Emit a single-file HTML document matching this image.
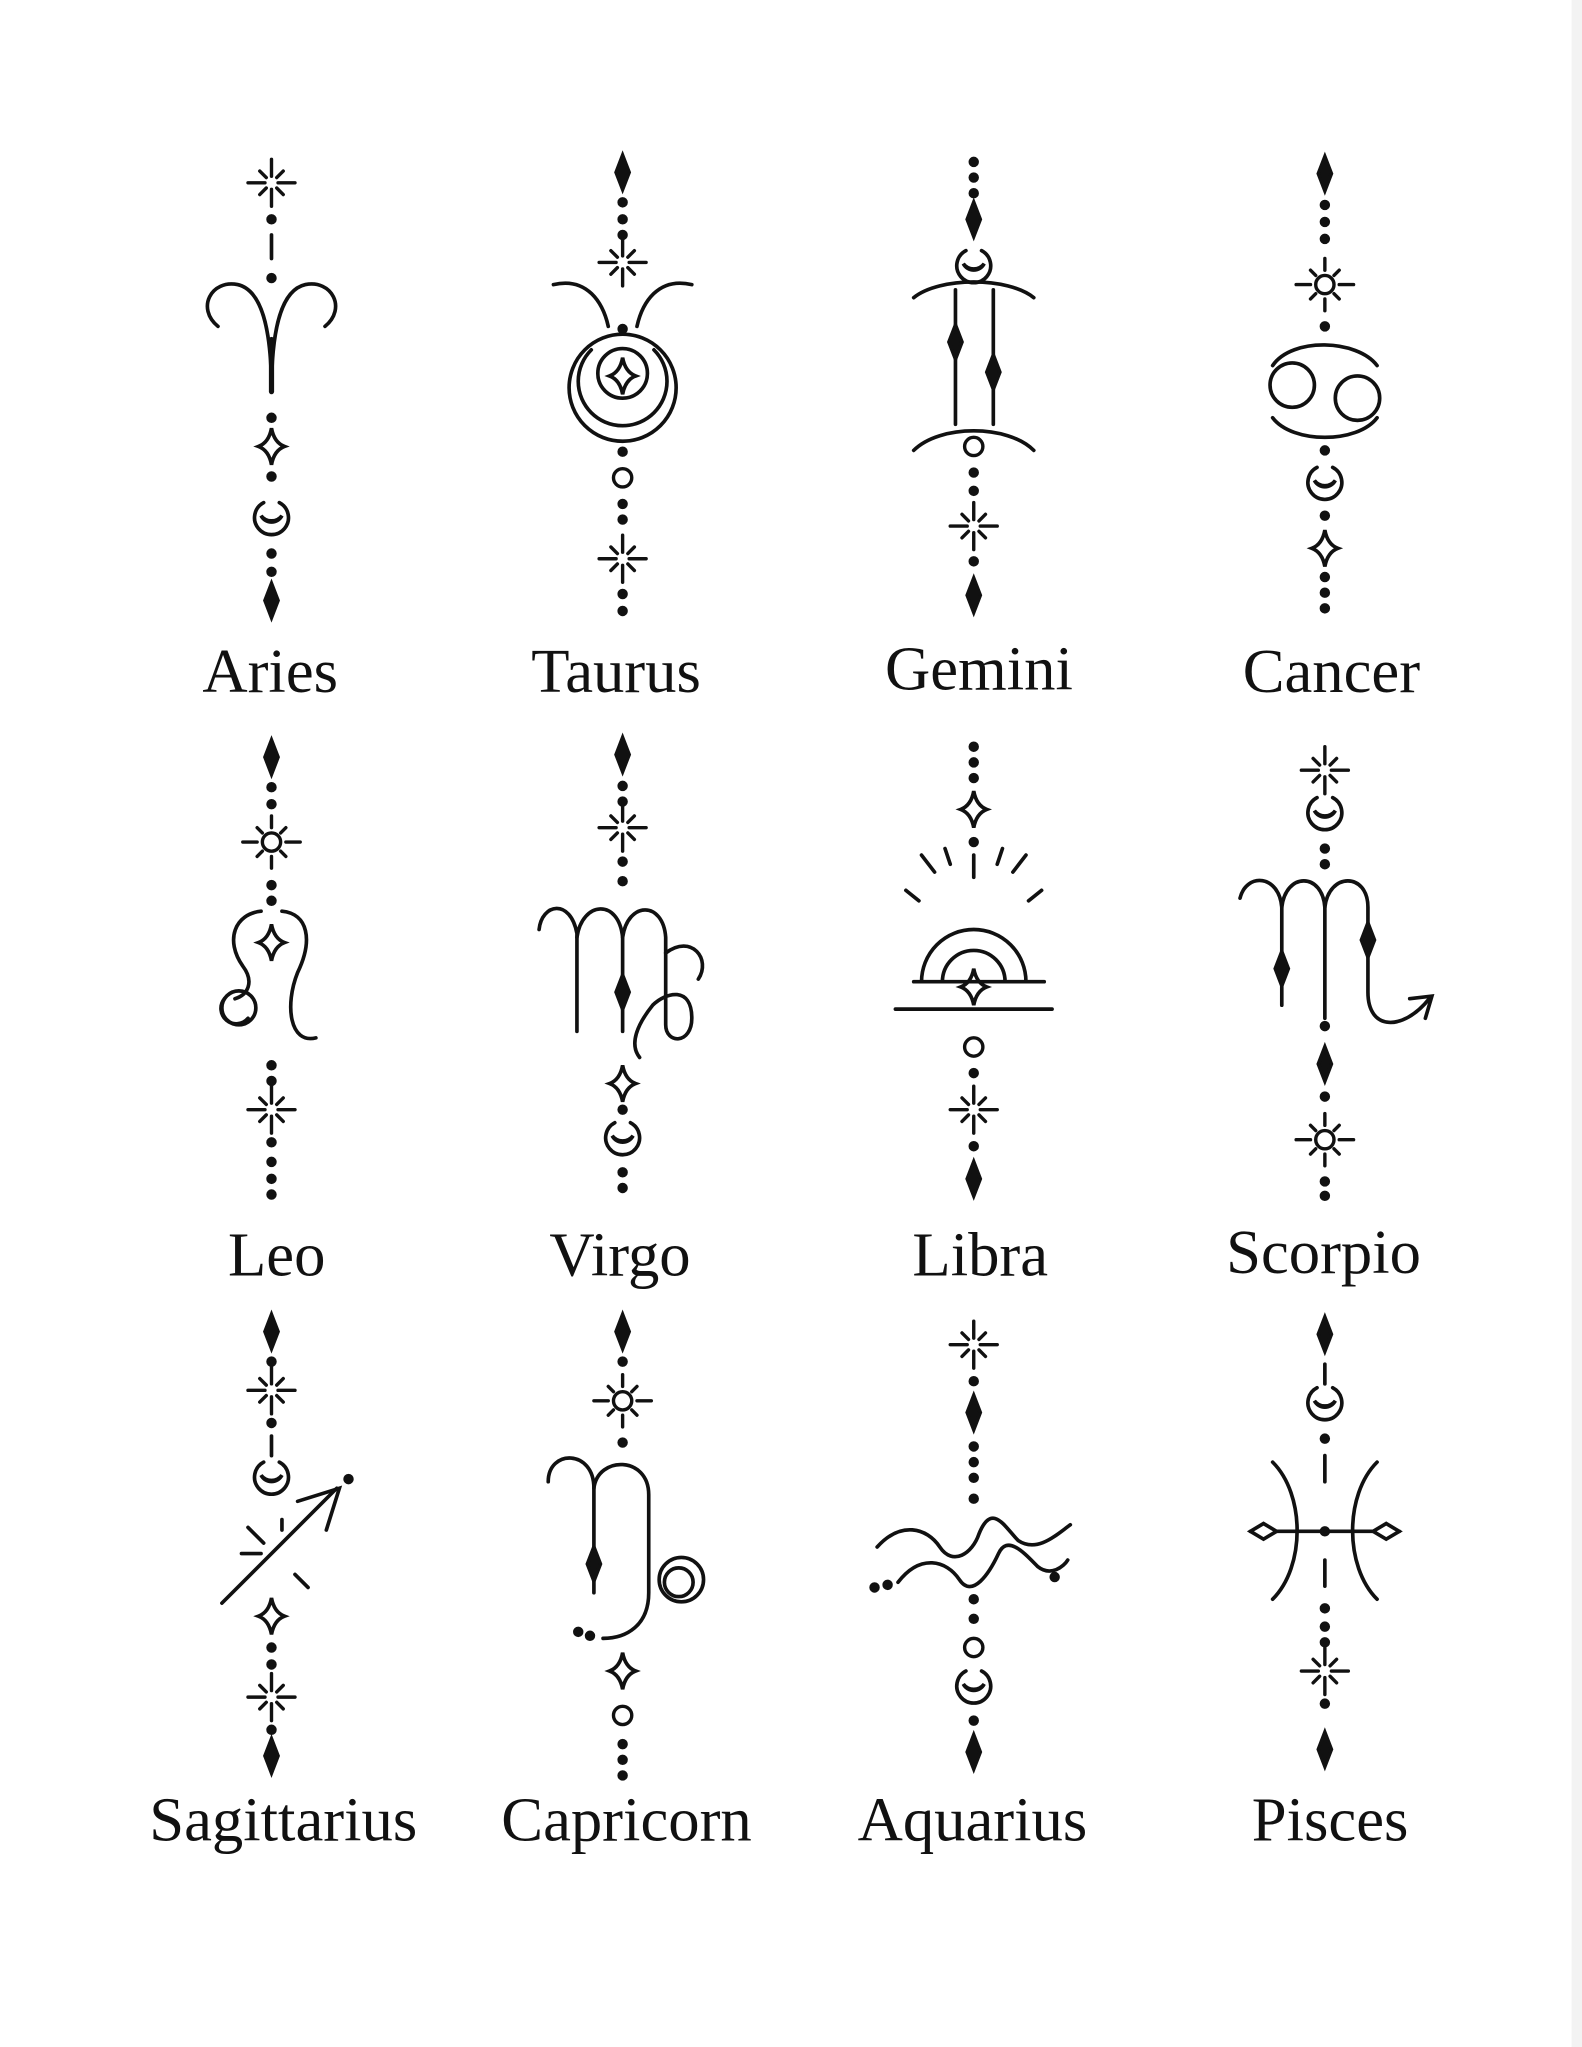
<!DOCTYPE html>
<html><head><meta charset="utf-8"><style>
html,body{margin:0;padding:0;background:#fff;}
svg{display:block}
text{font-family:"Liberation Serif",serif;font-size:48px;fill:#111;text-anchor:middle}
</style></head><body>
<svg width="1582" height="2047" viewBox="0 0 1212 1568" preserveAspectRatio="none" xmlns="http://www.w3.org/2000/svg">
<rect x="1204" y="0" width="8" height="1568" fill="#f3f3f3"/>
<defs>
<g id="spark" stroke="#111" stroke-width="2.6" stroke-linecap="round" fill="none">
<line x1="0" y1="-18" x2="0" y2="-5"/><line x1="0" y1="5" x2="0" y2="18"/>
<line x1="-18" y1="0" x2="-5" y2="0"/><line x1="5" y1="0" x2="18" y2="0"/>
<line x1="-9" y1="-9" x2="-4" y2="-4"/><line x1="9" y1="9" x2="4" y2="4"/>
<line x1="-9" y1="9" x2="-4" y2="4"/><line x1="9" y1="-9" x2="4" y2="-4"/>
</g>
<g id="sun" stroke="#111" stroke-width="2.6" stroke-linecap="round" fill="none">
<circle r="7"/>
<line x1="0" y1="-20" x2="0" y2="-11"/><line x1="0" y1="11" x2="0" y2="20"/>
<line x1="-22" y1="0" x2="-11" y2="0"/><line x1="11" y1="0" x2="22" y2="0"/>
<line x1="-11" y1="-11" x2="-7" y2="-7"/><line x1="11" y1="11" x2="7" y2="7"/>
<line x1="-11" y1="11" x2="-7" y2="7"/><line x1="11" y1="-11" x2="7" y2="-7"/>
</g>
<path id="diam" d="M0,-13 L5,0 L0,13 L-5,0Z" fill="#111"/>
<path id="star4" d="M0,-14 Q2,-3 10,0 Q2,3 0,14 Q-2,3 -10,0 Q-2,-3 0,-14Z" fill="none" stroke="#111" stroke-width="2.8"/>
<g id="moon" fill="none" stroke="#111" stroke-width="2.8">
<path d="M-6,-12 A13,13 0 1 0 6,-12"/>
<path d="M-8,-2 A9,9 0 0 0 8,-2 A10,10 0 0 1 -8,-2Z" fill="#111"/>
</g>
<circle id="ring" r="7" fill="none" stroke="#111" stroke-width="2.6"/>
<circle id="dot" r="2.6" fill="#111"/>
</defs>
<g stroke="#111" stroke-width="2.8" fill="none" stroke-linecap="round">

<use href="#spark" x="208" y="140"/>
<use href="#dot" x="208" y="168"/><line x1="208" y1="180" x2="208" y2="198"/><use href="#dot" x="208" y="213"/>
<path d="M208,300 C208,250 200,222 182,218 C162,214 150,236 167,250"/>
<path d="M208,300 C208,250 216,222 234,218 C254,214 266,236 249,250"/>
<line x1="208" y1="260" x2="208" y2="300" stroke-width="4"/>
<use href="#dot" x="208" y="320"/><use href="#star4" x="208" y="342"/><use href="#dot" x="208" y="365"/>
<use href="#moon" x="208" y="397"/><use href="#dot" x="208" y="424"/><use href="#dot" x="208" y="438"/>
<use href="#diam" x="208" y="460"/>

<use href="#diam" x="477" y="132"/><use href="#dot" x="477" y="155"/><use href="#dot" x="477" y="168"/><use href="#dot" x="477" y="180"/>
<use href="#spark" x="477" y="201"/>
<path d="M424,218 C450,212 462,232 466,250"/><path d="M530,218 C504,212 492,232 488,250"/>
<use href="#dot" x="477" y="252"/>
<circle cx="477" cy="297" r="41"/>
<path d="M453,268 A34,34 0 1 0 501,268"/>
<circle cx="477" cy="286" r="19"/>
<use href="#star4" x="477" y="288"/>
<use href="#dot" x="477" y="346"/><use href="#ring" x="477" y="366"/><use href="#dot" x="477" y="386"/><use href="#dot" x="477" y="398"/>
<use href="#spark" x="477" y="428"/><use href="#dot" x="477" y="455"/><use href="#dot" x="477" y="468"/>

<use href="#dot" x="746" y="124"/><use href="#dot" x="746" y="136"/><use href="#dot" x="746" y="148"/>
<use href="#diam" x="746" y="168"/><use href="#moon" x="746" y="204"/>
<path d="M700,228 C720,212 772,212 792,228"/>
<path d="M700,345 C720,325 772,325 792,345"/>
<line x1="732" y1="222" x2="732" y2="325"/><line x1="761" y1="222" x2="761" y2="325"/>
<use href="#diam" x="732" y="262"/><use href="#diam" x="761" y="285"/>
<use href="#ring" x="746" y="342"/><use href="#dot" x="746" y="362"/><use href="#dot" x="746" y="376"/>
<use href="#spark" x="746" y="403"/><use href="#dot" x="746" y="430"/><use href="#diam" x="746" y="456"/>

<use href="#diam" x="1015" y="133"/><use href="#dot" x="1015" y="157"/><use href="#dot" x="1015" y="170"/><use href="#dot" x="1015" y="183"/>
<use href="#sun" x="1015" y="218"/><use href="#dot" x="1015" y="250"/>
<path d="M1055,280 C1040,260 990,258 975,280"/><circle cx="990" cy="295" r="17"/>
<path d="M975,320 C990,340 1040,340 1055,320"/><circle cx="1040" cy="305" r="17"/>
<use href="#dot" x="1015" y="345"/><use href="#moon" x="1015" y="370"/>
<use href="#dot" x="1015" y="395"/><use href="#star4" x="1015" y="420"/>
<use href="#dot" x="1015" y="442"/><use href="#dot" x="1015" y="454"/><use href="#dot" x="1015" y="466"/>

<use href="#diam" x="208" y="580"/><use href="#dot" x="208" y="603"/><use href="#dot" x="208" y="616"/>
<use href="#sun" x="208" y="645"/><use href="#dot" x="208" y="678"/><use href="#dot" x="208" y="690"/>
<path d="M200,698 C180,700 172,720 186,740 C195,752 190,762 180,765"/>
<path d="M216,698 C236,700 240,720 228,745 C218,770 222,800 242,795"/>
<use href="#star4" x="208" y="722"/>
<circle cx="183" cy="772" r="13"/><path d="M172,765 A10,10 0 1 0 190,780"/>
<use href="#dot" x="208" y="816"/><use href="#dot" x="208" y="828"/>
<use href="#spark" x="208" y="850"/><use href="#dot" x="208" y="875"/><use href="#dot" x="208" y="890"/><use href="#dot" x="208" y="903"/><use href="#dot" x="208" y="915"/>

<use href="#diam" x="477" y="578"/><use href="#dot" x="477" y="602"/><use href="#dot" x="477" y="614"/>
<use href="#spark" x="477" y="634"/><use href="#dot" x="477" y="660"/><use href="#dot" x="477" y="675"/>
<path d="M413,712 C415,692 437,688 442,715 L442,790"/>
<path d="M442,718 C446,690 474,688 477,718 L477,790"/>
<path d="M477,718 C481,690 508,690 510,718 L510,785 C510,800 530,800 530,780 C530,755 510,760 500,770 C488,785 482,800 490,810"/>
<path d="M510,730 C530,715 545,735 535,750"/>
<use href="#diam" x="477" y="760"/>
<use href="#star4" x="477" y="830"/><use href="#dot" x="477" y="850"/><use href="#moon" x="477" y="872"/>
<use href="#dot" x="477" y="898"/><use href="#dot" x="477" y="910"/>

<use href="#dot" x="746" y="572"/><use href="#dot" x="746" y="584"/><use href="#dot" x="746" y="596"/>
<use href="#star4" x="746" y="620"/><use href="#dot" x="746" y="645"/><line x1="746" y1="655" x2="746" y2="672"/>
<line x1="716" y1="668" x2="706" y2="655"/><line x1="776" y1="668" x2="786" y2="655"/>
<line x1="704" y1="690" x2="694" y2="682"/><line x1="788" y1="690" x2="798" y2="682"/>
<line x1="728" y1="662" x2="724" y2="650"/><line x1="764" y1="662" x2="768" y2="650"/>
<path d="M706,752 A40,40 0 1 1 786,752"/>
<path d="M722,752 A24,24 0 1 1 770,752"/>
<line x1="700" y1="752" x2="800" y2="752"/>
<line x1="686" y1="773" x2="806" y2="773"/>
<use href="#star4" x="746" y="756"/>
<use href="#ring" x="746" y="802"/><use href="#dot" x="746" y="822"/>
<use href="#spark" x="746" y="850"/><use href="#dot" x="746" y="878"/><use href="#diam" x="746" y="903"/>

<use href="#spark" x="1015" y="590"/><use href="#moon" x="1015" y="623"/>
<use href="#dot" x="1015" y="650"/><use href="#dot" x="1015" y="662"/>
<path d="M950,688 C955,668 980,670 982,695 L982,770"/>
<path d="M982,695 C985,668 1013,668 1015,695 L1015,780"/>
<path d="M1015,695 C1018,668 1048,668 1048,695 L1048,760 C1048,790 1075,790 1095,765"/>
<path d="M1080,765 L1097,763 L1092,780"/>
<use href="#diam" x="982" y="742"/><use href="#diam" x="1048" y="720"/>
<use href="#dot" x="1015" y="786"/><use href="#diam" x="1015" y="815"/><use href="#dot" x="1015" y="840"/>
<use href="#sun" x="1015" y="873"/><use href="#dot" x="1015" y="905"/><use href="#dot" x="1015" y="916"/>

<use href="#diam" x="208" y="1020"/><use href="#dot" x="208" y="1043"/>
<use href="#spark" x="208" y="1065"/><use href="#dot" x="208" y="1090"/><line x1="208" y1="1100" x2="208" y2="1115"/>
<use href="#moon" x="208" y="1132"/>
<line x1="170" y1="1228" x2="258" y2="1140"/>
<path d="M228,1150 L260,1140 L250,1172"/>
<use href="#dot" x="267" y="1133"/>
<line x1="190" y1="1170" x2="202" y2="1182"/><line x1="226" y1="1206" x2="236" y2="1216"/>
<line x1="185" y1="1190" x2="200" y2="1190"/><line x1="216" y1="1172" x2="216" y2="1164"/>
<use href="#star4" x="208" y="1238"/><use href="#dot" x="208" y="1262"/><use href="#dot" x="208" y="1275"/>
<use href="#spark" x="208" y="1300"/><use href="#dot" x="208" y="1325"/><use href="#diam" x="208" y="1345"/>

<use href="#diam" x="477" y="1020"/><use href="#dot" x="477" y="1043"/>
<use href="#sun" x="477" y="1073"/><use href="#dot" x="477" y="1105"/>
<path d="M420,1135 C420,1110 455,1110 455,1140 L455,1220"/>
<path d="M455,1140 C458,1115 497,1115 497,1145 L497,1220 C497,1245 480,1255 462,1255"/>
<use href="#dot" x="452" y="1253"/><use href="#dot" x="443" y="1250"/>
<use href="#diam" x="455" y="1198"/>
<circle cx="522" cy="1210" r="17"/><circle cx="520" cy="1212" r="11"/>
<use href="#star4" x="477" y="1280"/><use href="#ring" x="477" y="1314"/>
<use href="#dot" x="477" y="1336"/><use href="#dot" x="477" y="1348"/><use href="#dot" x="477" y="1360"/>

<use href="#spark" x="746" y="1030"/><use href="#dot" x="746" y="1058"/><use href="#diam" x="746" y="1082"/>
<use href="#dot" x="746" y="1108"/><use href="#dot" x="746" y="1120"/><use href="#dot" x="746" y="1132"/><use href="#dot" x="746" y="1148"/>
<path d="M672,1185 C690,1165 710,1170 720,1185 C730,1200 745,1190 750,1175 C760,1150 770,1170 780,1180 C795,1190 810,1175 820,1168"/>
<path d="M688,1212 C705,1190 725,1195 735,1210 C745,1225 758,1205 765,1190 C772,1175 785,1190 795,1200 C805,1208 815,1200 818,1195"/>
<use href="#dot" x="670" y="1216"/><use href="#dot" x="680" y="1214"/><use href="#dot" x="808" y="1208"/>
<use href="#dot" x="746" y="1225"/><use href="#dot" x="746" y="1240"/>
<use href="#ring" x="746" y="1262"/><use href="#moon" x="746" y="1292"/>
<use href="#dot" x="746" y="1318"/><use href="#diam" x="746" y="1342"/>

<use href="#diam" x="1015" y="1022"/><line x1="1015" y1="1045" x2="1015" y2="1060"/>
<use href="#moon" x="1015" y="1075"/><use href="#dot" x="1015" y="1102"/>
<line x1="1015" y1="1115" x2="1015" y2="1135"/><line x1="1015" y1="1195" x2="1015" y2="1215"/>
<path d="M975,1120 C1000,1145 1000,1200 975,1225"/>
<path d="M1055,1120 C1030,1145 1030,1200 1055,1225"/>
<line x1="958" y1="1173" x2="1072" y2="1173"/>
<path d="M958,1173 L968,1167 L978,1173 L968,1179Z" fill="#fff"/>
<path d="M1052,1173 L1062,1167 L1072,1173 L1062,1179Z" fill="#fff"/>
<use href="#dot" x="1015" y="1173"/>
<use href="#dot" x="1015" y="1232"/><use href="#dot" x="1015" y="1246"/><use href="#dot" x="1015" y="1258"/>
<use href="#spark" x="1015" y="1280"/><use href="#dot" x="1015" y="1305"/><use href="#diam" x="1015" y="1340"/>
</g>

<text x="207" y="530">Aries</text>
<text x="472" y="530">Taurus</text>
<text x="750" y="528">Gemini</text>
<text x="1020" y="530">Cancer</text>
<text x="212" y="977">Leo</text>
<text x="475" y="977">Virgo</text>
<text x="751" y="977">Libra</text>
<text x="1014" y="975">Scorpio</text>
<text x="217" y="1410">Sagittarius</text>
<text x="480" y="1410">Capricorn</text>
<text x="745" y="1410">Aquarius</text>
<text x="1019" y="1410">Pisces</text>
</svg>
</body></html>
